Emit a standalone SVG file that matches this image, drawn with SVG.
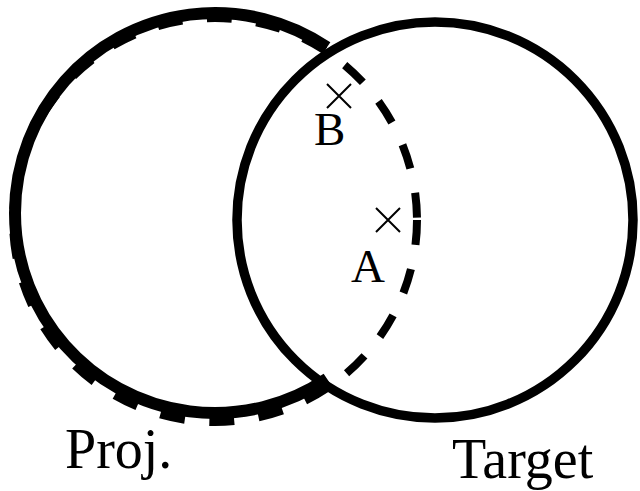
<svg xmlns="http://www.w3.org/2000/svg" width="640" height="491" viewBox="0 0 640 491">
<style>
.lbl{font-family:"Liberation Serif","Times New Roman",serif;fill:#000}
.cross{stroke:#000;stroke-width:2;fill:none}
</style>
<rect width="640" height="491" fill="#fff"/>
<g id="connectors"></g>
<g id="proj">
<path d="M 327 47.3 A 200 200 0 1 0 327 378.7" fill="none" stroke="#000" stroke-width="12"/>
<circle cx="215" cy="220" r="202" fill="none" stroke="#000" stroke-width="8" stroke-dasharray="25 24.65"/>
<text class="lbl" x="65" y="468" font-size="56">Proj.</text>
</g>
<g id="target">
<circle cx="435" cy="220" r="198" fill="none" stroke="#000" stroke-width="9.5"/>
<text class="lbl" x="452" y="478" font-size="56">Target</text>
</g>
<g id="pointB">
<path class="cross" d="M 327 84 L 351 108 M 351 84 L 327 108"/>
<text class="lbl" x="314" y="145" font-size="47">B</text>
</g>
<g id="pointA">
<path class="cross" d="M 376 208 L 400 232 M 400 208 L 376 232"/>
<text class="lbl" x="351" y="282" font-size="47">A</text>
</g>
</svg>
